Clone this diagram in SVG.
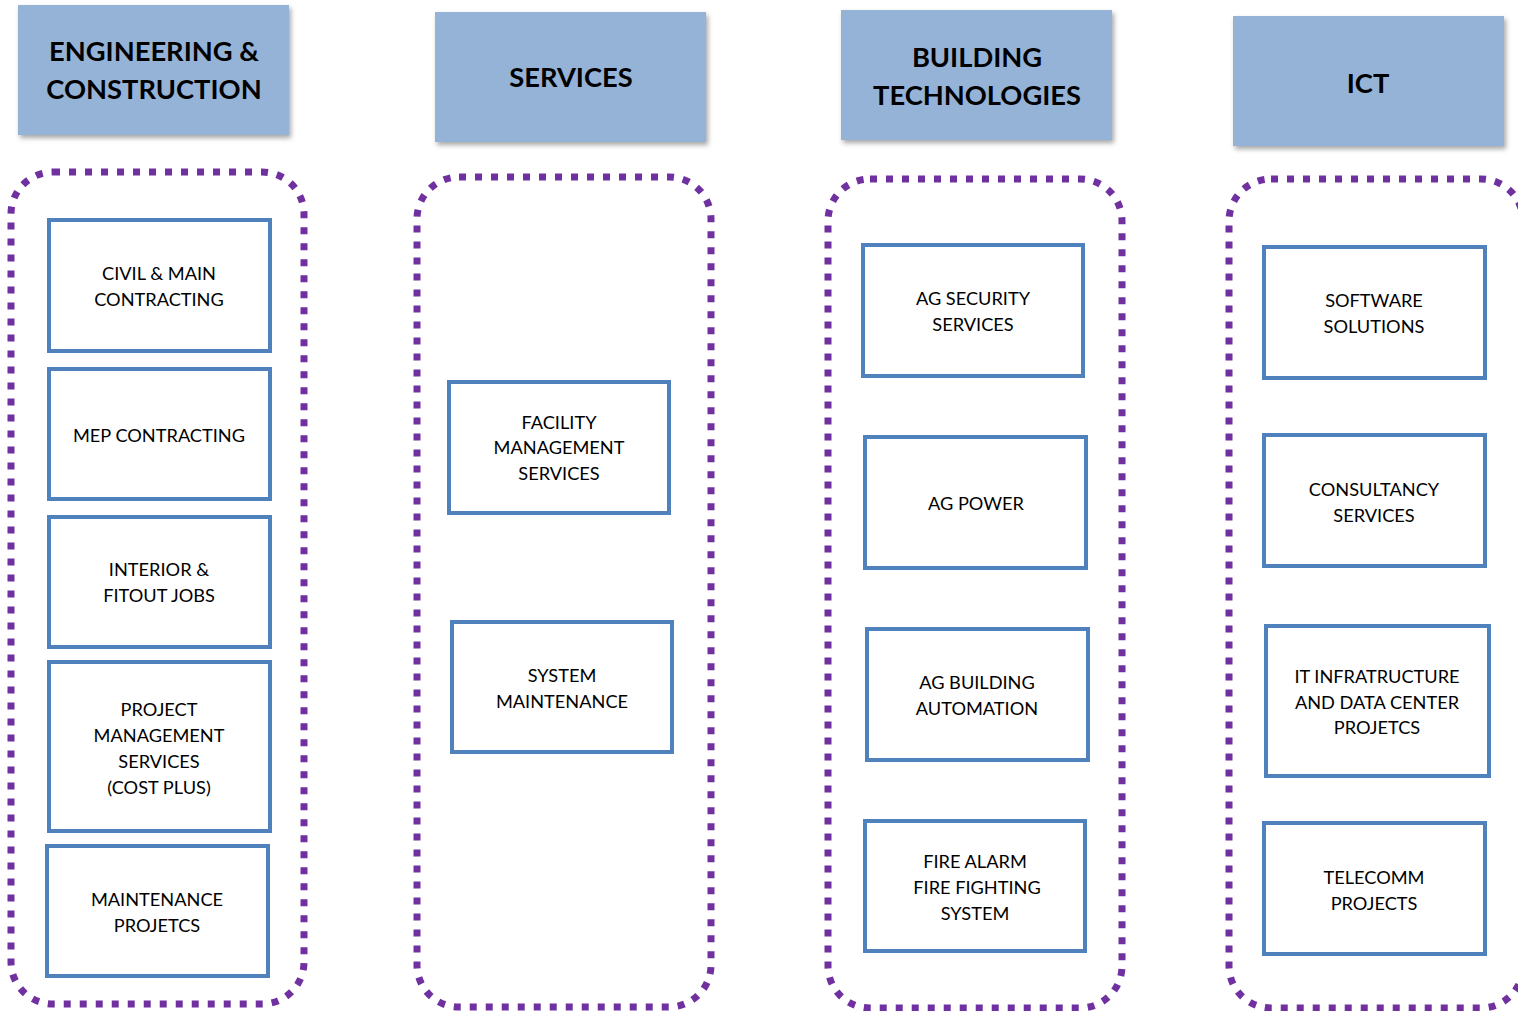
<svg xmlns="http://www.w3.org/2000/svg" width="1518" height="1011" viewBox="0 0 1518 1011">
<style>
.hdr{fill:#95b3d7}
.ht{font-family:Lato,"Liberation Sans",sans-serif;font-weight:bold;font-size:27.3px;fill:#000;text-anchor:middle}
.cont{fill:none;stroke:#7030a0;stroke-width:7;stroke-dasharray:7 9}
.box{fill:#fff;stroke:#4f81bd;stroke-width:4}
.bt{font-family:Lato,"Liberation Sans",sans-serif;font-size:18.2px;fill:#000;text-anchor:middle}
</style>
<defs>
<filter id="sh" x="-10%" y="-10%" width="130%" height="130%">
<feDropShadow dx="2" dy="3" stdDeviation="2.5" flood-color="#000" flood-opacity="0.35"/>
</filter>
</defs>
<rect width="1518" height="1011" fill="#fff"/>

<g id="hdr-ec"><rect class="hdr" x="18" y="5" width="271" height="130" filter="url(#sh)"/>
<text class="ht" x="154" y="61">ENGINEERING &amp;</text><text class="ht" x="154" y="99">CONSTRUCTION</text></g>
<g id="hdr-services"><rect class="hdr" x="435" y="12" width="271" height="130" filter="url(#sh)"/>
<text class="ht" x="571" y="87">SERVICES</text></g>
<g id="hdr-bt"><rect class="hdr" x="841" y="10" width="271" height="130" filter="url(#sh)"/>
<text class="ht" x="977" y="67">BUILDING</text><text class="ht" x="977" y="105">TECHNOLOGIES</text></g>
<g id="hdr-ict"><rect class="hdr" x="1233" y="16" width="271" height="130" filter="url(#sh)"/>
<text class="ht" x="1368" y="93">ICT</text></g>

<g id="cont-ec"><rect class="cont" x="11" y="172" width="293" height="832" rx="42"/></g>
<g id="cont-services"><rect class="cont" x="417" y="177" width="294" height="830" rx="42"/></g>
<g id="cont-bt"><rect class="cont" x="828" y="179" width="294" height="829" rx="42"/></g>
<g id="cont-ict"><rect class="cont" x="1229" y="179" width="294" height="829" rx="42"/></g>

<g id="n-civil"><rect class="box" x="49" y="220" width="221" height="131"/>
<text class="bt" x="159" y="280">CIVIL &amp; MAIN</text><text class="bt" x="159" y="306">CONTRACTING</text></g>
<g id="n-mep"><rect class="box" x="49" y="369" width="221" height="130"/>
<text class="bt" x="159" y="442">MEP CONTRACTING</text></g>
<g id="n-interior"><rect class="box" x="49" y="517" width="221" height="130"/>
<text class="bt" x="159" y="576">INTERIOR &amp;</text><text class="bt" x="159" y="602">FITOUT JOBS</text></g>
<g id="n-pms"><rect class="box" x="49" y="662" width="221" height="169"/>
<text class="bt" x="159" y="716">PROJECT</text><text class="bt" x="159" y="742">MANAGEMENT</text><text class="bt" x="159" y="768">SERVICES</text><text class="bt" x="159" y="794">(COST PLUS)</text></g>
<g id="n-maint"><rect class="box" x="47" y="846" width="221" height="130"/>
<text class="bt" x="157" y="906">MAINTENANCE</text><text class="bt" x="157" y="932">PROJETCS</text></g>

<g id="n-fms"><rect class="box" x="449" y="382" width="220" height="131"/>
<text class="bt" x="559" y="429">FACILITY</text><text class="bt" x="559" y="454">MANAGEMENT</text><text class="bt" x="559" y="480">SERVICES</text></g>
<g id="n-sysm"><rect class="box" x="452" y="622" width="220" height="130"/>
<text class="bt" x="562" y="682">SYSTEM</text><text class="bt" x="562" y="708">MAINTENANCE</text></g>

<g id="n-sec"><rect class="box" x="863" y="245" width="220" height="131"/>
<text class="bt" x="973" y="305">AG SECURITY</text><text class="bt" x="973" y="331">SERVICES</text></g>
<g id="n-power"><rect class="box" x="865" y="437" width="221" height="131"/>
<text class="bt" x="976" y="510">AG POWER</text></g>
<g id="n-bauto"><rect class="box" x="867" y="629" width="221" height="131"/>
<text class="bt" x="977" y="689">AG BUILDING</text><text class="bt" x="977" y="715">AUTOMATION</text></g>
<g id="n-fire"><rect class="box" x="865" y="821" width="220" height="130"/>
<text class="bt" x="975" y="868">FIRE ALARM</text><text class="bt" x="977" y="894">FIRE FIGHTING</text><text class="bt" x="975" y="920">SYSTEM</text></g>

<g id="n-soft"><rect class="box" x="1264" y="247" width="221" height="131"/>
<text class="bt" x="1374" y="307">SOFTWARE</text><text class="bt" x="1374" y="333">SOLUTIONS</text></g>
<g id="n-consult"><rect class="box" x="1264" y="435" width="221" height="131"/>
<text class="bt" x="1374" y="496">CONSULTANCY</text><text class="bt" x="1374" y="522">SERVICES</text></g>
<g id="n-itinfra"><rect class="box" x="1266" y="626" width="223" height="150"/>
<text class="bt" x="1377" y="683">IT INFRATRUCTURE</text><text class="bt" x="1377" y="709">AND DATA CENTER</text><text class="bt" x="1377" y="734">PROJETCS</text></g>
<g id="n-telecomm"><rect class="box" x="1264" y="823" width="221" height="131"/>
<text class="bt" x="1374" y="884">TELECOMM</text><text class="bt" x="1374" y="910">PROJECTS</text></g>

<g id="connectors"></g>
</svg>
